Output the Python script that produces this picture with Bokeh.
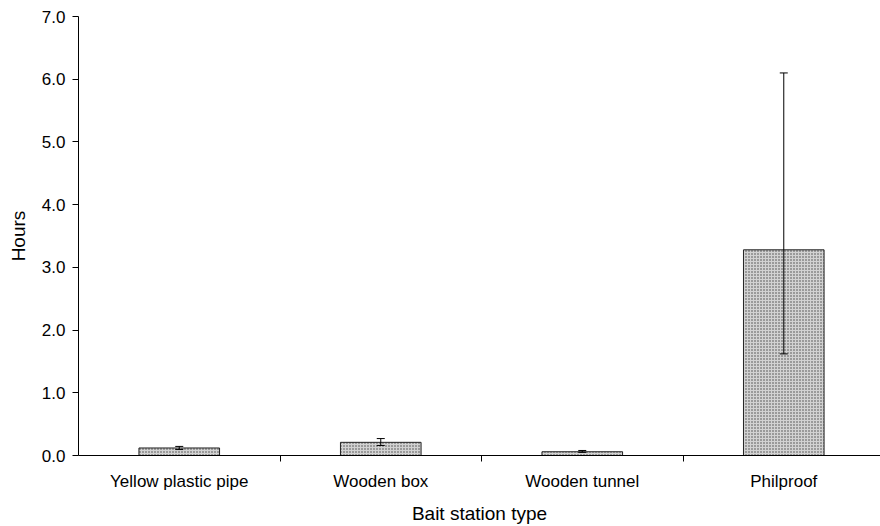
from bokeh.plotting import figure
from bokeh.models import ColumnDataSource, FixedTicker, Whisker, TeeHead, Range1d
from bokeh.embed import file_html
from bokeh.resources import INLINE

categories = ["Yellow plastic pipe", "Wooden box", "Wooden tunnel", "Philproof"]
hours = [0.12, 0.21, 0.06, 3.28]
err_lower = [0.095, 0.16, 0.05, 1.62]
err_upper = [0.145, 0.27, 0.08, 6.10]
y_ticks = [0, 1, 2, 3, 4, 5, 6, 7]

xs = [i + 0.5 for i in range(len(categories))]
src = ColumnDataSource(dict(x=xs, top=hours, lower=err_lower, upper=err_upper))

p = figure(width=880, height=526, output_backend="svg", toolbar_location=None,
           x_range=Range1d(0, 3.98), y_range=Range1d(0, 7),
           min_border_left=78, min_border_top=16, min_border_bottom=66, min_border_right=0)
p.outline_line_color = None
p.xgrid.visible = False
p.ygrid.visible = False

p.vbar(x="x", top="top", width=0.4, bottom=0, source=src,
       fill_color="#d2d2d2", line_color="#222222", line_width=1,
       hatch_pattern="dot", hatch_color="#444444", hatch_scale=3, hatch_weight=1)

w = Whisker(source=src, base="x", upper="upper", lower="lower",
            line_color="black", line_width=1, level="overlay",
            upper_head=TeeHead(size=8, line_color="black", line_width=1),
            lower_head=TeeHead(size=8, line_color="black", line_width=1))
p.add_layout(w)

font = "Liberation Sans"
p.xaxis.ticker = FixedTicker(ticks=xs, minor_ticks=list(range(1, len(categories) + 1)))
p.xaxis.major_label_overrides = {x: c for x, c in zip(xs, categories)}
p.xaxis.major_tick_line_color = None
p.xaxis.major_tick_out = 6
p.xaxis.minor_tick_out = 6
p.xaxis.minor_tick_in = 0
p.xaxis.minor_tick_line_color = "black"
p.xaxis.axis_label = "Bait station type"

p.yaxis.ticker = FixedTicker(ticks=y_ticks, minor_ticks=[])
p.yaxis.major_label_overrides = {t: f"{t:.1f}" for t in y_ticks}
p.yaxis.major_tick_out = 6
p.yaxis.major_tick_in = 0
p.yaxis.axis_label = "Hours"

for ax in (p.xaxis[0], p.yaxis[0]):
    ax.axis_line_color = "black"
    ax.major_label_text_font = font
    ax.major_label_text_font_size = "17px"
    ax.major_label_text_color = "black"
    ax.axis_label_text_font = font
    ax.axis_label_text_font_size = "19px"
    ax.axis_label_text_font_style = "normal"
    ax.axis_label_text_color = "black"

p.xaxis.major_label_standoff = 10
p.yaxis.major_label_standoff = 7
p.xaxis.axis_label_standoff = 9
p.yaxis.axis_label_standoff = 10

open("out.html", "w").write(file_html(p, INLINE))
